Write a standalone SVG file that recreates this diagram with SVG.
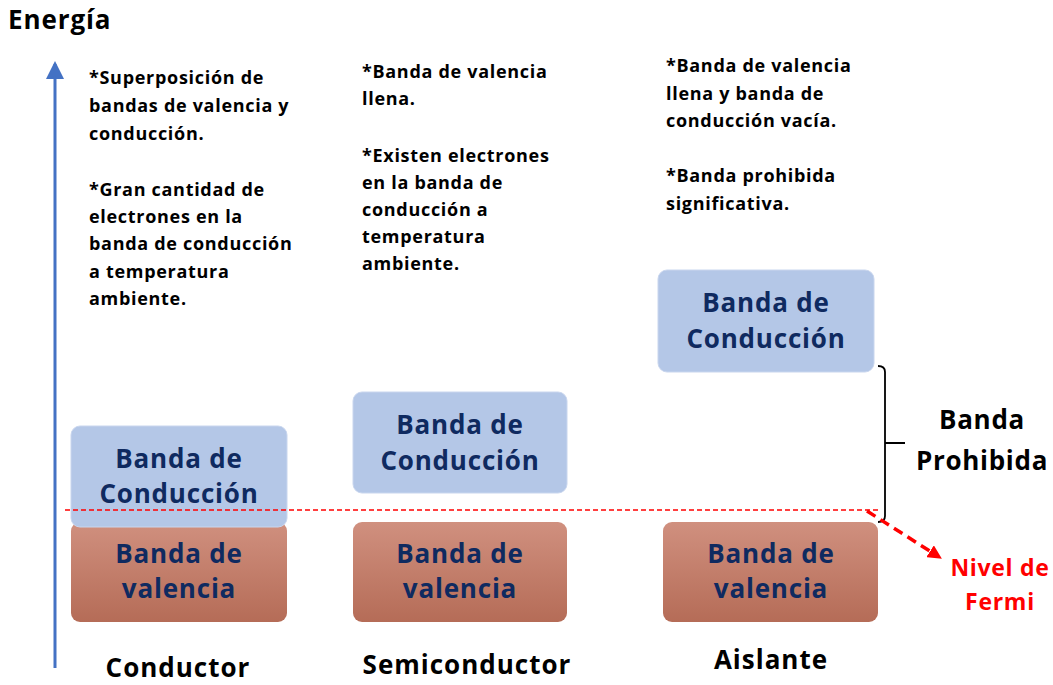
<svg xmlns="http://www.w3.org/2000/svg" width="1053" height="685" viewBox="0 0 1053 685">
<style>
text{font-family:"Open Sans","Liberation Sans",sans-serif;font-weight:bold}
.desc{font-size:18px;letter-spacing:0.7px;fill:#000}
.box{font-size:26px;letter-spacing:0.8px;fill:#0F2A60;text-anchor:middle}
.lab{font-size:26px;letter-spacing:1px;fill:#000;text-anchor:middle}
.big{font-size:26px;letter-spacing:0.7px;fill:#000;text-anchor:middle}
.red{font-size:23px;letter-spacing:0.7px;fill:#FF0000;text-anchor:middle}
.cb{fill:#B4C7E7;stroke:#C9D6EE;stroke-width:1}
.vb{fill:url(#vg)}
</style>
<defs>
<linearGradient id="vg" x1="0" y1="0" x2="0" y2="1">
<stop offset="0" stop-color="#D0907F"/>
<stop offset="1" stop-color="#B56C57"/>
</linearGradient>
<marker id="ab" markerWidth="6" markerHeight="6" refX="5" refY="3" orient="auto" markerUnits="strokeWidth">
<path d="M0,0 L6,3 L0,6 Z" fill="#4472C4"/>
</marker>
<marker id="ar" markerWidth="4" markerHeight="4" refX="2" refY="2" orient="auto" markerUnits="strokeWidth">
<path d="M0,0 L4,2 L0,4 Z" fill="#FF0000"/>
</marker>
</defs>
<rect width="1053" height="685" fill="#fff"/>
<text x="8" y="29" style="font-size:26px;letter-spacing:0.9px">Energía</text>
<g id="connectors">
<line x1="55" y1="668" x2="55" y2="64" stroke="#4472C4" stroke-width="3" marker-end="url(#ab)"/>
</g>
<g id="desc-conductor">
<text class="desc" x="89" y="84">*Superposición de</text>
<text class="desc" x="89" y="112">bandas de valencia y</text>
<text class="desc" x="89" y="140">conducción.</text>
<text class="desc" x="89" y="196">*Gran cantidad de</text>
<text class="desc" x="89" y="223">electrones en la</text>
<text class="desc" x="89" y="250">banda de conducción</text>
<text class="desc" x="89" y="278">a temperatura</text>
<text class="desc" x="89" y="305">ambiente.</text>
</g>
<g id="desc-semi">
<text class="desc" x="362" y="78">*Banda de valencia</text>
<text class="desc" x="362" y="105">llena.</text>
<text class="desc" x="362" y="162">*Existen electrones</text>
<text class="desc" x="362" y="189">en la banda de</text>
<text class="desc" x="362" y="216">conducción a</text>
<text class="desc" x="362" y="243">temperatura</text>
<text class="desc" x="362" y="270">ambiente.</text>
</g>
<g id="desc-aislante">
<text class="desc" x="666" y="72">*Banda de valencia</text>
<text class="desc" x="666" y="100">llena y banda de</text>
<text class="desc" x="666" y="127">conducción vacía.</text>
<text class="desc" x="666" y="182">*Banda prohibida</text>
<text class="desc" x="666" y="210">significativa.</text>
</g>
<g id="valencia-conductor">
<rect class="vb" x="71" y="522" width="216" height="100" rx="9"/>
<text class="box" x="179" y="563">Banda de</text>
<text class="box" x="179" y="598">valencia</text>
</g>
<g id="conduccion-conductor">
<rect class="cb" x="71" y="426" width="216" height="101" rx="9"/>
<text class="box" x="179" y="468">Banda de</text>
<text class="box" x="179" y="503">Conducción</text>
</g>
<g id="conduccion-semi">
<rect class="cb" x="353" y="392" width="214" height="101" rx="9"/>
<text class="box" x="460" y="434">Banda de</text>
<text class="box" x="460" y="470">Conducción</text>
</g>
<g id="valencia-semi">
<rect class="vb" x="353" y="522" width="214" height="100" rx="9"/>
<text class="box" x="460" y="563">Banda de</text>
<text class="box" x="460" y="598">valencia</text>
</g>
<g id="conduccion-aislante">
<rect class="cb" x="658" y="270" width="216" height="102" rx="9"/>
<text class="box" x="766" y="312">Banda de</text>
<text class="box" x="766" y="348">Conducción</text>
</g>
<g id="valencia-aislante">
<rect class="vb" x="663" y="522" width="215" height="100" rx="9"/>
<text class="box" x="771" y="563">Banda de</text>
<text class="box" x="771" y="598">valencia</text>
</g>
<g id="fermi-line">
<line x1="65" y1="510" x2="880" y2="510" stroke="#FF0000" stroke-width="1.5" stroke-dasharray="5,3"/>
</g>
<g id="brace">
<path d="M878,366 Q885,366 885,372 L885,516 Q885,522 878,522 M885,443 L905,443" fill="none" stroke="#000" stroke-width="1.8"/>
<text class="big" x="982" y="429">Banda</text>
<text class="big" x="982" y="470">Prohibida</text>
</g>
<g id="fermi-arrow">
<line x1="867" y1="511" x2="936" y2="555" stroke="#FF0000" stroke-width="3.5" stroke-dasharray="10,6" marker-end="url(#ar)"/>
<text class="red" x="1000" y="576">Nivel de</text>
<text class="red" x="1000" y="610">Fermi</text>
</g>
<g id="labels">
<text class="lab" x="178" y="677">Conductor</text>
<text class="lab" x="467" y="674">Semiconductor</text>
<text class="lab" x="771" y="669">Aislante</text>
</g>
</svg>
